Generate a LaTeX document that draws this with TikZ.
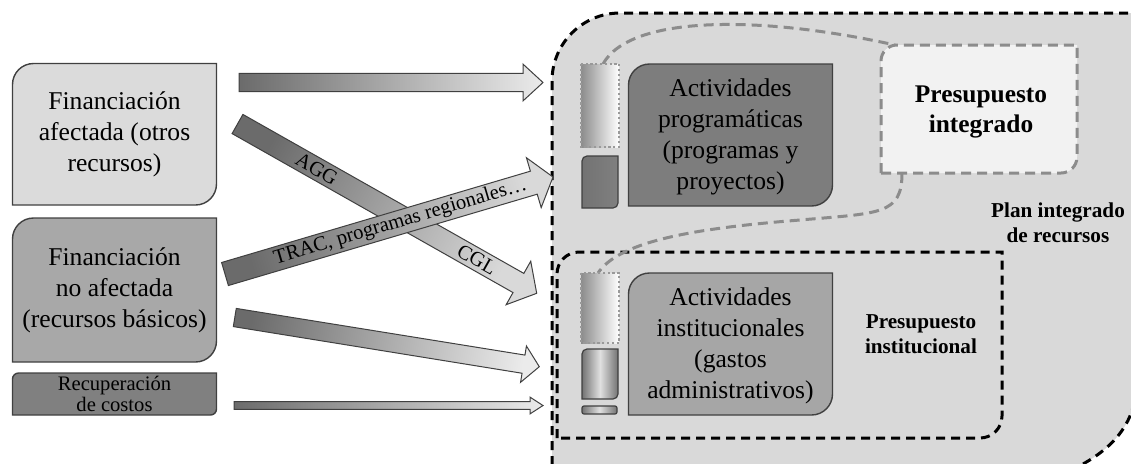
\documentclass[tikz,border=0pt]{standalone}
\usepackage{fontspec}
\setmainfont{Liberation Serif}
\usetikzlibrary{calc}

% box with rounded top-left and bottom-right corners
\newcommand{\halfround}[6][]{%
  \path[#1] (#2,#5) [rounded corners=#6] -- (#2,#3) [sharp corners] -- (#4,#3)
    [rounded corners=#6] -- (#4,#5) [sharp corners] -- cycle;}

% block arrow from #2 to #3: half body, half head, head length
\newcommand{\blockarrow}[6][]{%
  \coordinate (#2-h) at ($(#3)!#6!(#2)$);
  \path[#1] ($(#2)!#4!90:(#3)$) -- ($(#2-h)!#4!90:(#3)$) -- ($(#2-h)!#5!90:(#3)$) -- (#3)
    -- ($(#2-h)!#5!-90:(#3)$) -- ($(#2-h)!#4!-90:(#3)$) -- ($(#2)!#4!-90:(#3)$) -- cycle;}

\tikzset{
  box/.style={draw=black!75, line width=0.7pt},
  boxtext/.style={align=center, inner sep=0pt, font=\fontsize{12.8}{15.5}\selectfont},
  smalltext/.style={align=center, inner sep=0pt, font=\fontsize{10.3}{9}\selectfont},
  boldtext/.style={align=center, inner sep=0pt, font=\fontsize{10.6}{12.5}\selectfont\bfseries},
  bigbold/.style={align=center, inner sep=0pt, font=\fontsize{12.7}{15}\selectfont\bfseries},
  arrowtext/.style={inner sep=0pt, font=\fontsize{10.3}{12}\selectfont},
  blackdash/.style={draw=black, line width=1.5pt, dash pattern=on 4.5pt off 3pt},
  graydash/.style={draw=black!45, line width=1.5pt, dash pattern=on 5pt off 3pt},
  flow/.style={draw=black!75, line width=0.5pt, left color=black!58, right color=black!8},
  dotbar/.style={draw=black!40, line width=1.1pt, dash pattern=on 1.1pt off 1.3pt,
    left color=black!45, right color=white},
  solidbar/.style={draw=black!75, line width=0.6pt, left color=black!55,
    right color=black!55, middle color=black!12},
}

\begin{document}
\begin{tikzpicture}[x=0.5pt, y=-0.5pt]
  \useasboundingbox (0,0) rectangle (1131,463);
  \clip (0,0) rectangle (1131,463);

  % plan integrado
  \path[blackdash, fill=black!15] (552,495) [rounded corners=34pt] -- (552,13) [sharp corners]
    -- (1136,13) -- (1136,385) .. controls (1136,432) and (1100,463) .. (1040,482) -- cycle;

  % presupuesto institucional
  \halfround[blackdash]{557}{252}{1002}{438}{11pt}

  % links to presupuesto integrado
  \coordinate (ud-top) at (603,64);
  \coordinate (ld-top) at (598,273);
  \coordinate (pi-top) at (895,45);
  \coordinate (pi-bot) at (902,173);
  \draw[graydash] (ud-top) .. controls (630,15) and (760,15) .. (pi-top);
  \draw[graydash] (pi-bot) .. controls (902,215) and (880,213) .. (800,220)
    .. controls (700,228) and (620,240) .. (ld-top);

  \halfround[graydash, fill=black!5]{881}{45}{1077}{173}{8pt}

  % bars
  \path[dotbar] (581,64) rectangle (619,147);
  \halfround[solidbar, left color=black!55, middle color=black!30, right color=black!50]{582}{156}{618}{208}{2.5pt}
  \path[dotbar] (581,273) rectangle (619,343);
  \halfround[solidbar]{582}{349}{618}{399}{2.5pt}
  \path[solidbar, rounded corners=1pt] (582,406) rectangle (617,414);

  % actividades
  \halfround[box, fill=black!51]{628.5}{64}{832.5}{206}{10.5pt}
  \halfround[box, fill=black!35]{628.5}{273}{832.5}{415}{10.5pt}

  % financiacion
  \halfround[box, fill=black!14]{12.5}{63.5}{216.5}{205}{10.5pt}
  \halfround[box, fill=black!34]{12.5}{218}{216.5}{362}{10.5pt}
  \halfround[box, fill=black!50]{12.5}{373}{216.5}{415}{3pt}

  % arrows
  \coordinate (top-s) at (239,82.5);   \coordinate (top-e) at (543,82.5);
  \coordinate (agg-s) at (237.5,124);  \coordinate (agg-e) at (536.7,293.3);
  \coordinate (trac-s) at (225,274);   \coordinate (trac-e) at (553,177);
  \coordinate (low-s) at (234.8,317.5); \coordinate (low-e) at (539.3,366.7);
  \coordinate (bot-s) at (234,405.5);  \coordinate (bot-e) at (543,405.5);

  \blockarrow[flow]{top-s}{top-e}{4.6pt}{9.2pt}{10pt}
  \blockarrow[flow, right color=black!15, shading angle=60.5]{agg-s}{agg-e}{5.5pt}{12.5pt}{10.5pt}
  \blockarrow[flow, right color=black!15, shading angle=106.5]{trac-s}{trac-e}{6pt}{13pt}{10pt}
  \blockarrow[flow, shading angle=80.8]{low-s}{low-e}{4.6pt}{9.2pt}{8pt}
  \blockarrow[flow]{bot-s}{bot-e}{1.9pt}{4.2pt}{6.5pt}

  \path (agg-s) -- (agg-e) node[arrowtext, sloped, pos=0.265] (agg) {AGG};
  \path (agg-s) -- (agg-e) node[arrowtext, sloped, pos=0.8] (cgl) {CGL};
  \path (trac-s) -- (trac-e) node[arrowtext, sloped, pos=0.535] (trac) {TRAC, programas regionales…};

  % texts
  \node[boxtext] (fa) at (114.5,134) {Financiación\\afectada (otros\\recursos)};
  \node[boxtext] (fn) at (114.5,290) {Financiación\\no afectada\\(recursos básicos)};
  \node[smalltext] (rc) at (114.5,394) {Recuperación\\de costos};
  \node[boxtext] (ap) at (730.5,137) {Actividades\\programáticas\\(programas y\\proyectos)};
  \node[boxtext] (ai) at (730.5,345.5) {Actividades\\institucionales\\(gastos\\administrativos)};
  \node[bigbold] (pi) at (981,112) {Presupuesto\\integrado};
  \node[boldtext] (plan) at (1058,222.5) {Plan integrado\\de recursos};
  \node[boldtext] (pinst) at (921,334.5) {Presupuesto\\institucional};
\end{tikzpicture}
\end{document}
